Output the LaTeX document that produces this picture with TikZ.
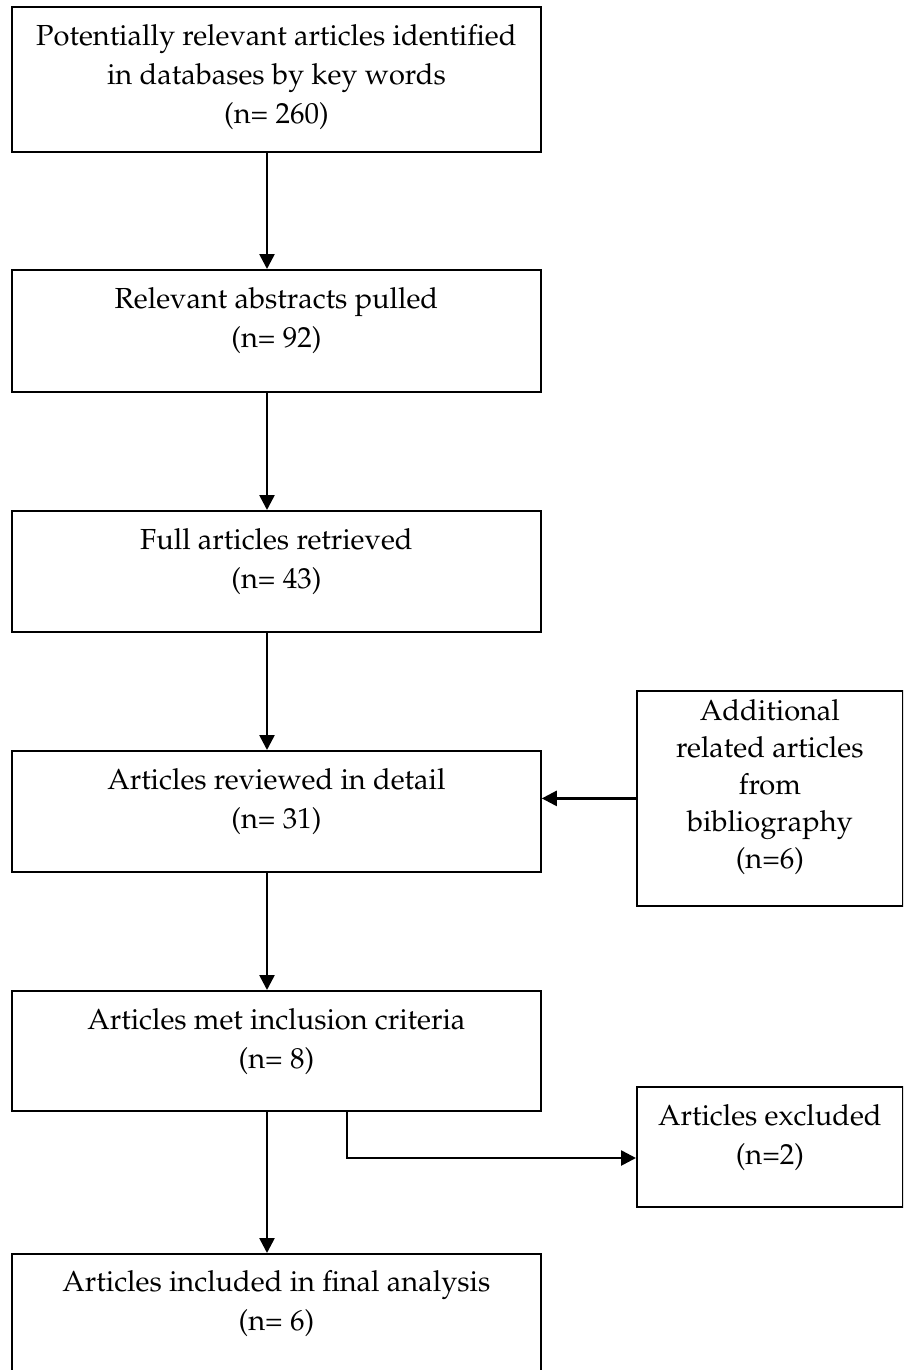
\documentclass[tikz,border=0pt]{standalone}
\usepackage[T1]{fontenc}
\usepackage{mathpazo}
\usetikzlibrary{arrows.meta, positioning}
\newcommand{\boxtext}[4]{\parbox[t][#1pt][t]{#2pt}{\vspace*{#3pt}\centering\strut #4}}

\begin{document}
\begin{tikzpicture}[x=1pt, y=-1pt,
  stagebox/.style={draw, line width=1.8pt, inner sep=0pt, anchor=north west,
                   font=\fontsize{29}{39}\selectfont},
  arr/.style={-{Triangle[length=15pt, width=15pt]}, line width=2.6pt}
]
\useasboundingbox (0,0) rectangle (903,1370);
\clip (0,0) rectangle (903,1370);

\node[stagebox] (a) at (11,6)    {\boxtext{145}{529}{11}{Potentially relevant articles identified\\in databases by key words\\(n= 260)}};
\node[stagebox] (b) at (11,269)  {\boxtext{122}{529}{11}{Relevant abstracts pulled\\(n= 92)}};
\node[stagebox] (c) at (11,510)  {\boxtext{121}{529}{11}{Full articles retrieved\\(n= 43)}};
\node[stagebox] (d) at (11,750)  {\boxtext{121}{529}{11}{Articles reviewed in detail\\(n= 31)}};
\node[stagebox] (e) at (11,990)  {\boxtext{120}{529}{11}{Articles met inclusion criteria\\(n= 8)}};
\node[stagebox] (f) at (11,1253) {\boxtext{150}{529}{10}{Articles included in final analysis\\(n= 6)}};

\node[stagebox, font=\fontsize{29}{37}\selectfont] (add) at (636,690)
  {\boxtext{215}{266}{4}{Additional\\related articles\\from\\bibliography\\(n=6)}};
\node[stagebox] (exc) at (636,1086) {\boxtext{120}{266}{11}{Articles excluded\\(n=2)}};

% main column and side branches
\coordinate (spine) at (267,0);
\coordinate (bend) at (347,1158);
\foreach \x/\y in {a/b,b/c,c/d,d/e,e/f} \draw[arr] (\x.south -| spine) -- (\y.north -| spine);
\draw[arr] (add.west) -- (add.west -| d.east);
\draw[arr] (e.south -| bend) |- (exc.west |- bend);
\end{tikzpicture}
\end{document}
